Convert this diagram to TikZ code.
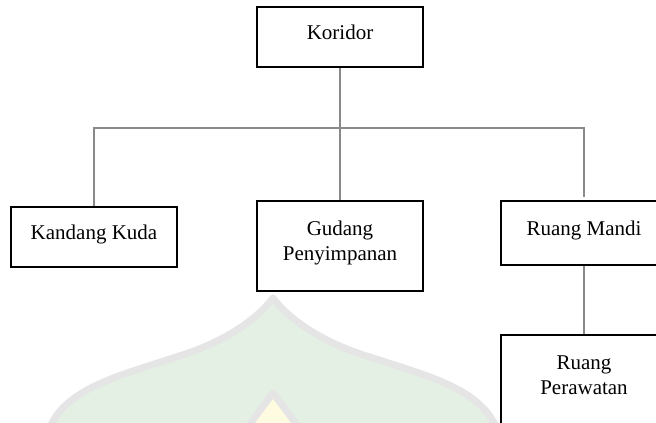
\documentclass[tikz,border=0pt]{standalone}
\usepackage{fontspec}
\setmainfont{Liberation Serif}
\usepackage{tikz}
\definecolor{linkcol}{RGB}{137,137,137}
\definecolor{markgray}{RGB}{229,229,229}
\definecolor{markgreen}{RGB}{228,240,228}
\definecolor{markyellow}{RGB}{255,251,224}

\tikzset{
  room/.style={draw,line width=1.5pt,minimum width=166pt,align=center,
    font=\fontsize{21}{25}\selectfont,text depth=10pt},
  conn/.style={draw=linkcol,line width=1.5pt},
}

\begin{document}
\begin{tikzpicture}[x=1pt,y=-1pt]
\useasboundingbox (0,0) rectangle (656,423);
\clip (0,0) rectangle (656,423);
% watermark
\fill[markgreen] (273,298) .. controls (288,318) and (320,342) .. (370,357)
  .. controls (430,377) and (490,390) .. (500,440) -- (46,440)
  .. controls (56,390) and (116,377) .. (176,357)
  .. controls (226,342) and (258,318) .. cycle;
\draw[markgray,line width=7pt,line join=round] (500,440) .. controls (490,390) and (430,377) .. (370,357)
  .. controls (320,342) and (288,318) .. (273,298)
  .. controls (258,318) and (226,342) .. (176,357)
  .. controls (116,377) and (56,390) .. (46,440);
\fill[markyellow] (273,396) -- (300,430) -- (246,430) -- cycle;
\draw[markgray,line width=7pt,line join=round] (300,430) .. controls (290,415) and (282,405) .. (273,393)
  .. controls (264,405) and (256,415) .. (246,430);
% rooms
\node[room,minimum height=60pt] (kor) at (340,37) {Koridor};
\node[room,minimum height=60pt] (kan) at (94,237) {Kandang Kuda};
\node[room,minimum height=90pt] (gud) at (340,246) {Gudang\\Penyimpanan};
\node[room,minimum height=64pt] (rum) at (584,233) {Ruang Mandi};
\node[room,minimum height=90pt] (rup) at (584,380) {Ruang\\Perawatan};
\coordinate (bus) at (340,128);
% links
\draw[conn] (kor) -- (gud);
\draw[conn] (kan.north) |- (bus) -| ([yshift=3pt]rum.north);
\draw[conn] (rum) -- (rup);
\end{tikzpicture}
\end{document}
